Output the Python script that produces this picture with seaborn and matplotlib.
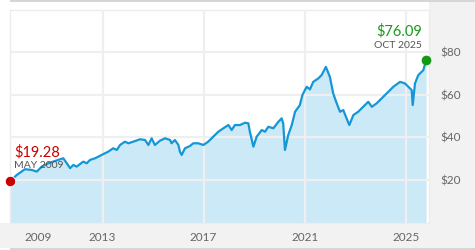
import matplotlib
matplotlib.use("Agg")
import matplotlib.pyplot as plt
from matplotlib.patches import Rectangle
import seaborn as sns
import pandas as pd

# ---- data ----
years = [2009.33, 2009.60, 2009.92, 2010.19, 2010.39, 2010.59, 2010.85, 2011.24, 2011.44, 2011.58,
         2011.71, 2011.84, 2011.97, 2012.23, 2012.37, 2012.50, 2012.70, 2012.96, 2013.22, 2013.42,
         2013.56, 2013.69, 2013.88, 2014.02, 2014.21, 2014.48, 2014.68, 2014.81, 2014.94, 2015.07,
         2015.27, 2015.47, 2015.67, 2015.73, 2015.86, 2016.00, 2016.06, 2016.13, 2016.26, 2016.46,
         2016.59, 2016.79, 2016.99, 2017.18, 2017.38, 2017.58, 2017.78, 2017.98, 2018.11, 2018.24,
         2018.44, 2018.64, 2018.77, 2018.83, 2018.97, 2019.10, 2019.30, 2019.43, 2019.56, 2019.76,
         2019.96, 2020.09, 2020.15, 2020.22, 2020.35, 2020.49, 2020.62, 2020.81, 2020.91, 2021.08,
         2021.21, 2021.34, 2021.54, 2021.67, 2021.84, 2022.00, 2022.13, 2022.27, 2022.40, 2022.53,
         2022.66, 2022.77, 2022.93, 2023.12, 2023.32, 2023.52, 2023.66, 2023.85, 2024.05, 2024.25,
         2024.51, 2024.78, 2024.97, 2025.11, 2025.24, 2025.28, 2025.37, 2025.50, 2025.70, 2025.81]
prices = [19.28, 22.34, 25.01, 24.68, 23.89, 26.23, 27.82, 29.37, 30.16, 27.82,
          25.48, 27.03, 26.23, 28.57, 27.82, 29.37, 30.16, 31.71, 33.26, 34.85,
          34.05, 36.39, 37.94, 37.19, 37.94, 39.06, 38.74, 36.39, 39.53, 36.39,
          38.41, 39.53, 38.74, 37.19, 38.74, 36.39, 33.26, 31.71, 34.85, 35.93,
          37.19, 37.19, 36.39, 37.94, 40.28, 42.62, 44.22, 45.76, 43.42, 45.76,
          45.76, 46.84, 46.56, 42.62, 35.60, 40.28, 43.42, 42.62, 44.96, 44.22,
          47.31, 48.90, 46.56, 34.05, 41.08, 45.76, 51.99, 55.13, 59.81, 63.70,
          62.50, 66.04, 67.63, 69.18, 73.07, 68.38, 60.61, 55.93, 51.99, 52.79,
          48.90, 45.76, 50.45, 51.99, 54.33, 56.67, 54.33, 55.93, 58.27, 60.61,
          63.70, 66.04, 65.29, 63.70, 62.15, 55.13, 65.29, 69.18, 71.52, 76.09]

start_label = ["$19.28", "MAY 2009"]
end_label = ["$76.09", "OCT 2025"]

xtick_pos = [2013, 2017, 2021, 2025]
xtick_labels = ["2013", "2017", "2021", "2025"]
first_label_pos = [2010.44]
first_label = ["2009"]
ytick_pos = [20, 40, 60, 80]
ytick_labels = ["$20", "$40", "$60", "$80"]

df = pd.DataFrame({"year": years, "price": prices})

# ---- styling ----
sns.set_style("white")
plt.rcParams["font.family"] = ["Lato", "DejaVu Sans"]

LINE = "#1597d6"
FILL = "#cce9f7"
GRID = "#efefef"
PANEL = "#f2f2f2"
TXT = "#666666"

W, H = 475, 250
fig = plt.figure(figsize=(W / 100, H / 100), dpi=100)
fig.patch.set_facecolor("white")

def fig_rect(x0, y0, x1, y1, color):
    # pixel coordinates measured from top-left
    fig.patches.append(Rectangle((x0 / W, 1 - y1 / H), (x1 - x0) / W, (y1 - y0) / H,
                                 transform=fig.transFigure, facecolor=color,
                                 edgecolor="none", zorder=-5))

fig_rect(0, 222.5, W, 248, PANEL)        # bottom band
fig_rect(429, 2, W, 222.5, PANEL)        # right panel
fig_rect(10, 0, W, 2, "#d6d6d6")         # top line
fig_rect(10, 248, W, H, "#d6d6d6")       # bottom line

ax = fig.add_axes([10 / W, 1 - 222.5 / H, (429 - 10) / W, (222.5 - 9.5) / H])
ax.set_facecolor("white")

ax.fill_between(df["year"], df["price"], 0, color=FILL, linewidth=0, zorder=1)
sns.lineplot(data=df, x="year", y="price", ax=ax, color=LINE, linewidth=1.6, zorder=3)

ax.set_xlim(2009.33, 2025.925)
ax.set_ylim(0, 100)

ax.set_xticks(xtick_pos, labels=xtick_labels)
ax.set_xticks(first_label_pos, labels=first_label, minor=True)
ax.yaxis.tick_right()
ax.set_yticks(ytick_pos, labels=ytick_labels)

ax.grid(True, which="major", color=GRID, linewidth=1.6, zorder=2)
ax.grid(False, which="minor")
ax.set_axisbelow(False)
for line in ax.get_xgridlines() + ax.get_ygridlines():
    line.set_zorder(2)

ax.tick_params(axis="x", which="both", length=0, pad=7, labelsize=8.5, labelcolor=TXT)
ax.tick_params(axis="y", length=0, pad=8, labelsize=8.5, labelcolor=TXT)
ax.set_xlabel("")
ax.set_ylabel("")
for s in ax.spines.values():
    s.set_color("#ececec")
    s.set_linewidth(1.0)

# start / end markers
x0, y0 = years[0], prices[0]
x1, y1 = years[-1], prices[-1]
ax.plot([x0], [y0], "o", color="#cc0000", markersize=7.5, clip_on=False, zorder=5,
        markeredgecolor="white", markeredgewidth=0.6)
ax.plot([x1], [y1], "o", color="#129a12", markersize=7, clip_on=False, zorder=5,
        markeredgecolor="#129a12", markeredgewidth=0)

ax.annotate(start_label[0], xy=(x0, y0), xytext=(4, 25), textcoords="offset pixels",
            ha="left", va="baseline", color="#cc0000", fontsize=10.5, zorder=6)
ax.annotate(start_label[1], xy=(x0, y0), xytext=(4, 13), textcoords="offset pixels",
            ha="left", va="baseline", color="#555555", fontsize=7.5, zorder=6)
ax.annotate(end_label[0], xy=(x1, y1), xytext=(-4, 25), textcoords="offset pixels",
            ha="right", va="baseline", color="#1a9a1a", fontsize=10.5, zorder=6)
ax.annotate(end_label[1], xy=(x1, y1), xytext=(-4, 12), textcoords="offset pixels",
            ha="right", va="baseline", color="#555555", fontsize=7.5, zorder=6)

fig.savefig("out.png", dpi=100)
